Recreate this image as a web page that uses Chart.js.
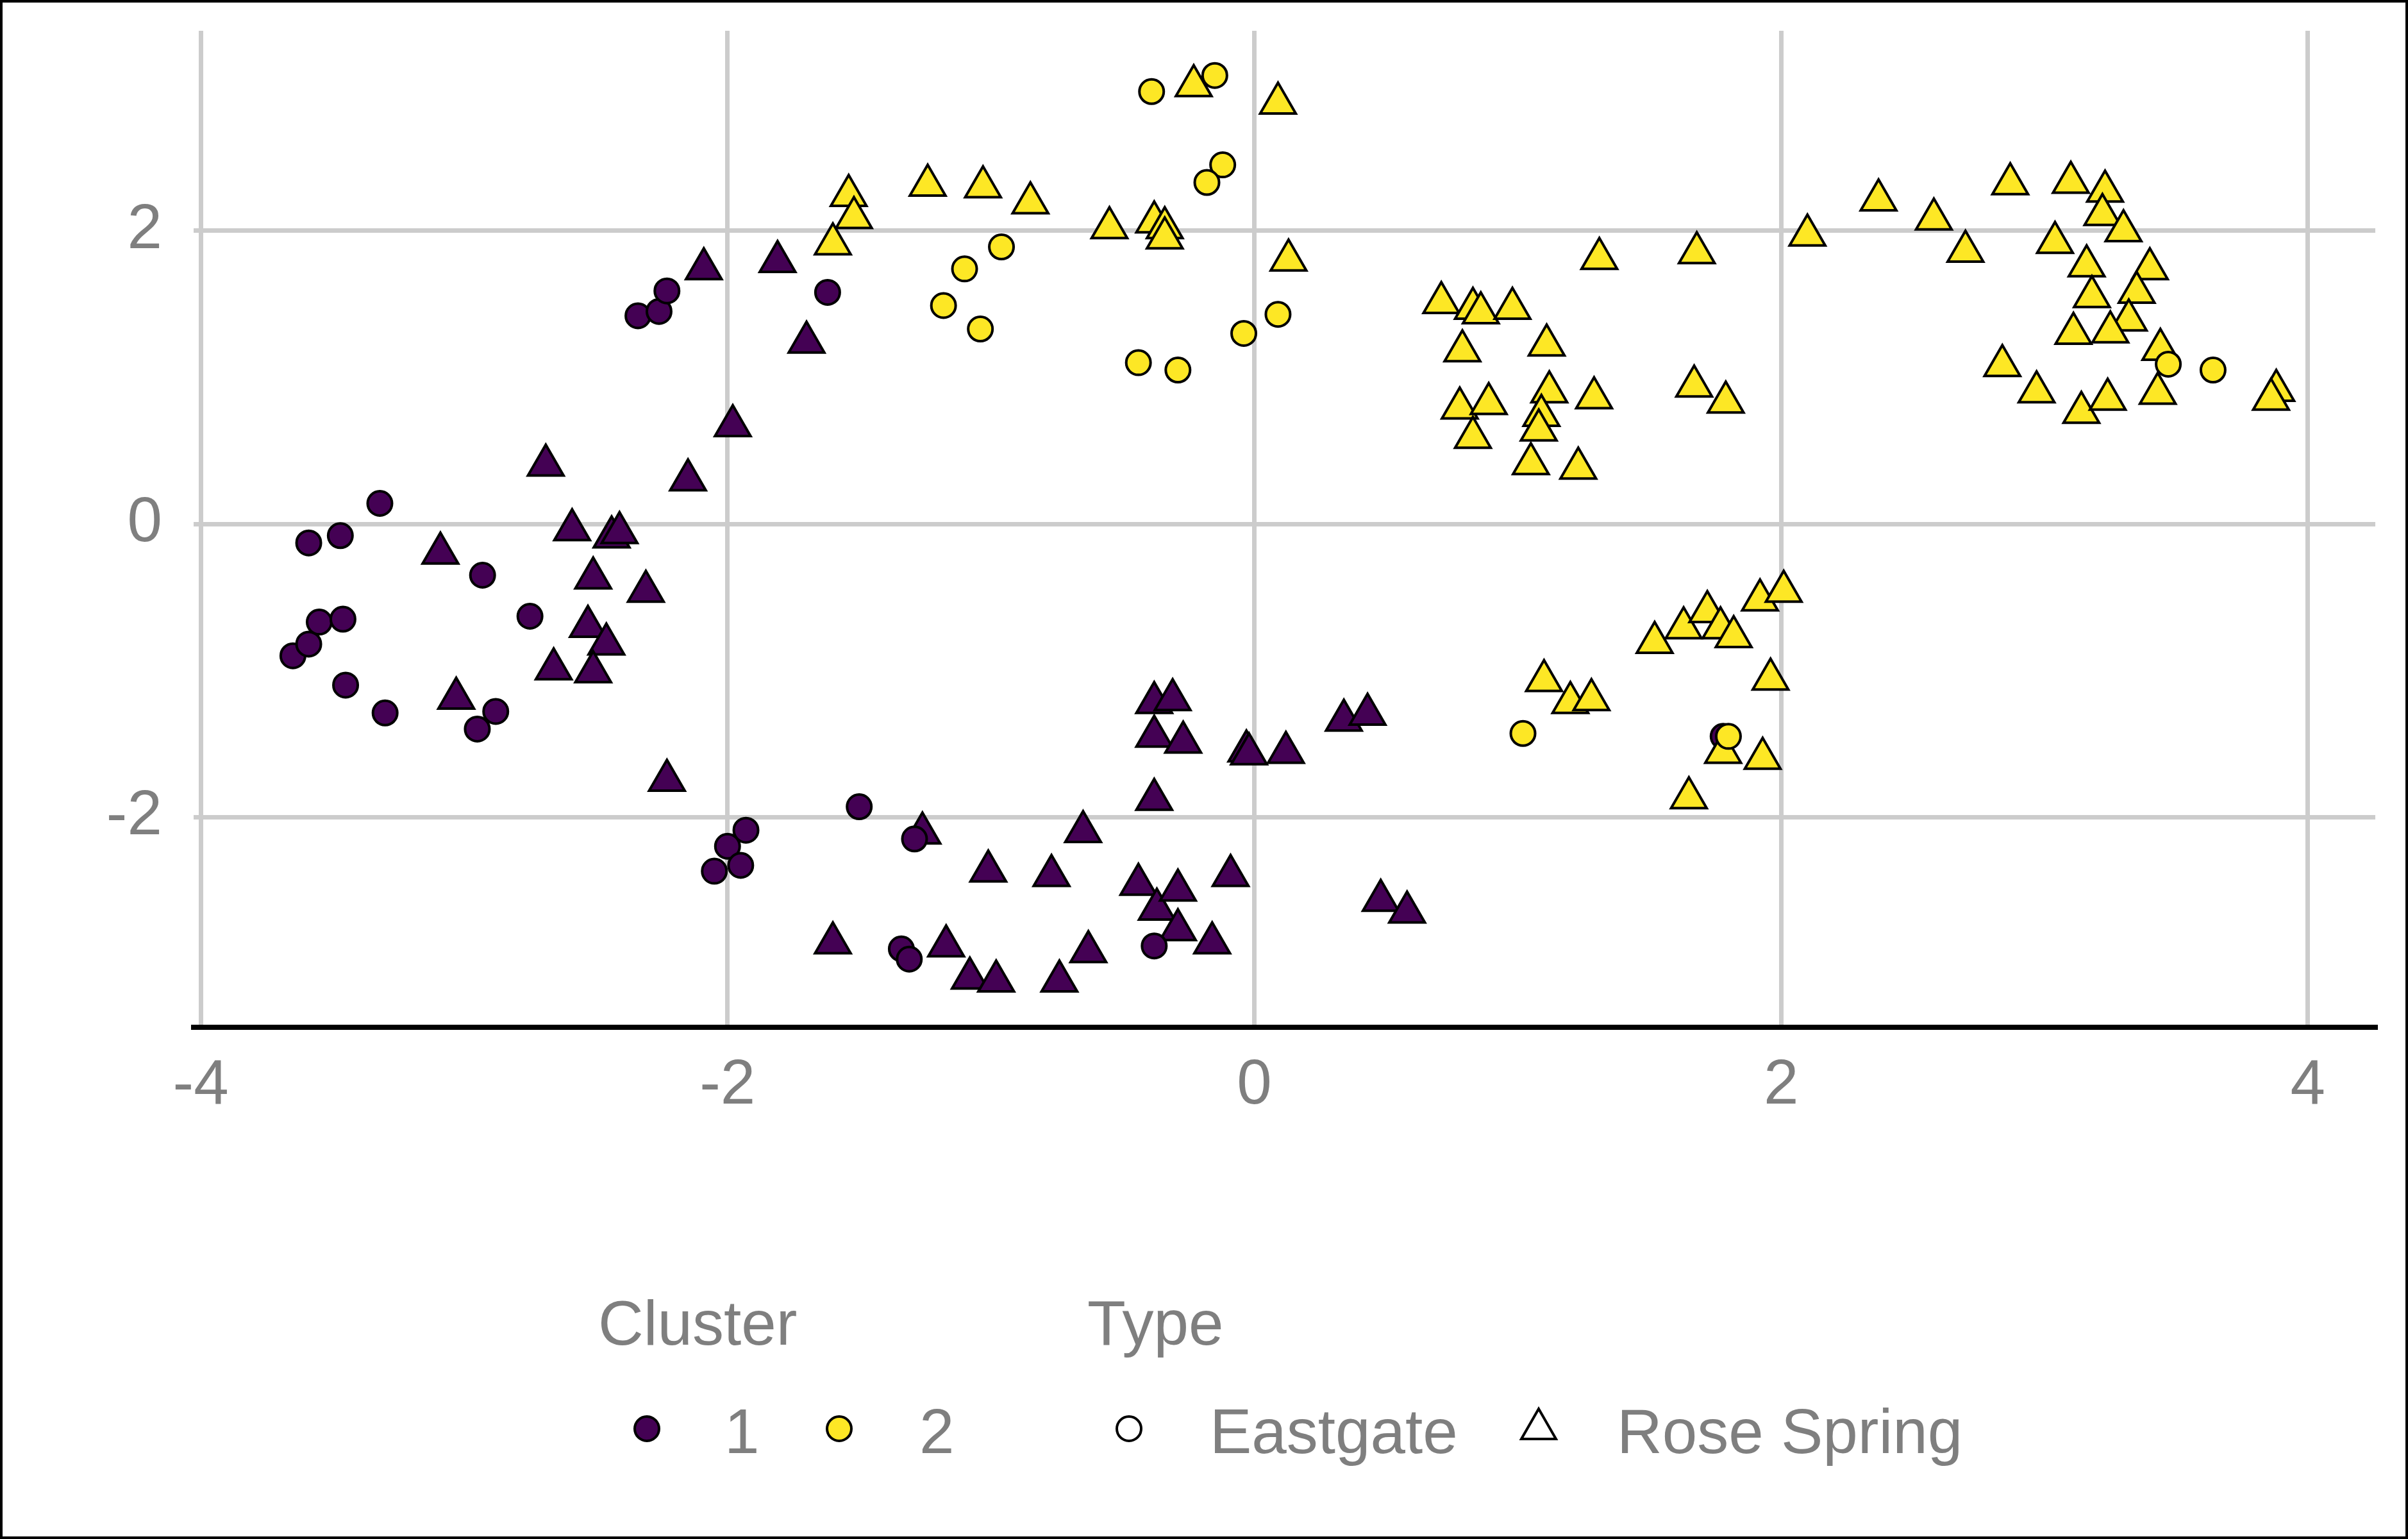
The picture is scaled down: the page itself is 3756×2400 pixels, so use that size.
<!DOCTYPE html>
<html>
<head>
<meta charset="utf-8">
<script src="https://cdn.jsdelivr.net/npm/chart.js@4.4.1/dist/chart.umd.min.js"></script>
<style>
  html, body { margin: 0; padding: 0; background: #fff; }
  #page { position: relative; width: 3756px; height: 2400px; overflow: hidden;
          font-family: 'Liberation Sans', Arial, sans-serif; color: #7f7f7f; }
  #frame { position: absolute; left: 0; top: 0; width: 3756px; height: 2400px;
           box-sizing: border-box; border: 4px solid #000; pointer-events: none; }
  #chart { position: absolute; left: 0; top: 0; }
  .lg { position: absolute; font-size: 98px; line-height: 1; white-space: nowrap; }
  .mk { position: absolute; overflow: visible; }
</style>
</head>
<body>
<div id="page">
  <canvas id="chart" width="3756" height="1800"></canvas>
  <div id="legend"></div>
  <div id="frame"></div>
</div>
<script>
// axis ticks + legend text
const xTicks = [-4, -2, 0, 2, 4];
const yTicks = [-2, 0, 2];
const clusterLabels = ['1', '2'];
const typeLabels = ['Eastgate', 'Rose Spring'];
const clusterColors = ['#440154', '#FDE725'];

// cluster 1, Eastgate
const c1Eastgate = [
  [-3.65, -0.90], [-3.59, -0.82], [-3.55, -0.67], [-3.46, -0.65], [-3.59, -0.13],
  [-3.47, -0.08], [-3.32, 0.14], [-3.45, -1.10], [-3.30, -1.29], [-2.93, -0.35],
  [-2.88, -1.28], [-2.95, -1.40], [-2.75, -0.63], [-2.34, 1.42], [-2.26, 1.45],
  [-2.23, 1.59], [-1.62, 1.58], [-1.50, -1.93], [-1.93, -2.09], [-2.00, -2.20],
  [-1.95, -2.33], [-2.05, -2.37], [-1.34, -2.90], [-1.31, -2.97], [-1.29, -2.15],
  [-0.38, -2.88], [1.78, -1.45]
];

// cluster 1, Rose Spring
const c1RoseSpring = [
  [-2.09, 1.74], [-1.81, 1.79], [-1.70, 1.24], [-1.98, 0.67], [-2.15, 0.30],
  [-2.69, 0.40], [-2.59, -0.04], [-2.44, -0.09], [-2.41, -0.06], [-3.09, -0.20],
  [-2.51, -0.37], [-2.31, -0.46], [-2.53, -0.70], [-2.46, -0.82], [-2.66, -0.99],
  [-2.51, -1.01], [-3.03, -1.19], [-2.23, -1.75], [-1.60, -2.86], [-1.26, -2.11],
  [-1.17, -2.88], [-1.08, -3.10], [-0.98, -3.12], [-1.01, -2.37], [-0.74, -3.12],
  [-0.63, -2.92], [-0.77, -2.40], [-0.65, -2.10], [-0.44, -2.46], [-0.37, -2.63],
  [-0.29, -2.50], [-0.29, -2.77], [-0.16, -2.86], [-0.09, -2.40], [-0.38, -1.88],
  [-0.38, -1.45], [-0.38, -1.22], [-0.31, -1.20], [-0.27, -1.49], [-0.03, -1.55],
  [-0.02, -1.57], [0.12, -1.56], [0.34, -1.34], [0.43, -1.30], [0.48, -2.57],
  [0.58, -2.65]
];

// cluster 2, Eastgate
const c2Eastgate = [
  [-0.39, 2.95], [-0.15, 3.06], [-0.12, 2.45], [-0.18, 2.33], [-0.96, 1.89],
  [-1.10, 1.74], [-1.18, 1.49], [-1.04, 1.33], [-0.44, 1.10], [-0.29, 1.05],
  [-0.04, 1.30], [0.09, 1.43], [1.02, -1.43], [1.80, -1.45], [3.47, 1.09],
  [3.64, 1.05]
];

// cluster 2, Rose Spring
const c2RoseSpring = [
  [-1.54, 2.24], [-1.52, 2.09], [-1.60, 1.91], [-1.24, 2.31], [-1.03, 2.30],
  [-0.85, 2.19], [-0.55, 2.02], [-0.38, 2.06], [-0.34, 2.02], [-0.34, 1.95],
  [-0.23, 2.99], [0.09, 2.87], [0.13, 1.80], [0.71, 1.51], [0.83, 1.47],
  [0.86, 1.44], [0.98, 1.47], [0.79, 1.18], [1.11, 1.22], [1.31, 1.81],
  [1.68, 1.85], [2.10, 1.97], [0.78, 0.79], [0.89, 0.82], [0.83, 0.59],
  [1.12, 0.90], [1.09, 0.74], [1.08, 0.64], [1.05, 0.41], [1.23, 0.38],
  [1.29, 0.86], [1.67, 0.94], [1.79, 0.83], [2.37, 2.21], [2.58, 2.08],
  [2.70, 1.86], [2.87, 2.32], [3.10, 2.33], [3.23, 2.27], [3.22, 2.11],
  [3.30, 2.00], [3.04, 1.92], [3.16, 1.76], [3.40, 1.74], [3.18, 1.55],
  [3.35, 1.58], [3.32, 1.39], [3.25, 1.31], [3.11, 1.30], [3.44, 1.19],
  [2.84, 1.08], [2.97, 0.90], [3.14, 0.76], [3.24, 0.85], [3.43, 0.89],
  [3.88, 0.91], [3.86, 0.85], [1.52, -0.81], [1.63, -0.71], [1.72, -0.60],
  [1.77, -0.71], [1.82, -0.77], [1.92, -0.52], [2.01, -0.46], [1.10, -1.07],
  [1.20, -1.22], [1.28, -1.20], [1.96, -1.06], [1.78, -1.56], [1.93, -1.60],
  [1.65, -1.87]
];

const fontFamily = "'Liberation Sans', Arial, sans-serif";
const textGrey = '#7f7f7f';

const makeSet = (label, pts, color, shape, order) => ({
  label: label,
  data: pts.map(p => ({ x: p[0], y: p[1] })),
  backgroundColor: color,
  borderColor: '#000000',
  borderWidth: 4,
  pointStyle: shape,
  pointRadius: shape === 'triangle' ? 32 : 19,
  pointHoverRadius: shape === 'triangle' ? 32 : 19,
  order: order
});

new Chart(document.getElementById('chart'), {
  type: 'scatter',
  data: {
    datasets: [
      makeSet('1 Eastgate', c1Eastgate, clusterColors[0], 'circle', 2),
      makeSet('1 Rose Spring', c1RoseSpring, clusterColors[0], 'triangle', 2),
      makeSet('2 Eastgate', c2Eastgate, clusterColors[1], 'circle', 1),
      makeSet('2 Rose Spring', c2RoseSpring, clusterColors[1], 'triangle', 1)
    ]
  },
  options: {
    responsive: false,
    animation: false,
    devicePixelRatio: 1,
    layout: { padding: { left: 0, right: 51, top: 48, bottom: 0 } },
    plugins: { legend: { display: false }, tooltip: { enabled: false } },
    scales: {
      x: {
        type: 'linear',
        min: -4.027,
        max: 4.256,
        afterBuildTicks: s => { s.ticks = xTicks.map(v => ({ value: v })); },
        afterFit: s => { s.height = 198; s.paddingLeft = 0; s.paddingRight = 0; },
        grid: { color: '#cccccc', lineWidth: 7, drawTicks: false },
        border: { display: true, color: '#000000', width: 8 },
        ticks: { color: textGrey, font: { family: fontFamily, size: 98 }, padding: 33,
                 maxRotation: 0, autoSkip: false }
      },
      y: {
        type: 'linear',
        min: -3.435,
        max: 3.365,
        afterBuildTicks: s => { s.ticks = yTicks.map(v => ({ value: v })); },
        afterFit: s => { s.width = 302; s.paddingTop = 0; s.paddingBottom = 0; },
        grid: { color: '#cccccc', lineWidth: 7, drawTicks: false },
        border: { display: false },
        ticks: { color: textGrey, font: { family: fontFamily, size: 98 }, padding: 49 }
      }
    }
  }
});

// legend (two groups under the plot)
const legend = document.getElementById('legend');

function addText(txt, left, top) {
  const d = document.createElement('div');
  d.className = 'lg';
  d.style.left = left + 'px';
  d.style.top = top + 'px';
  d.textContent = txt;
  legend.appendChild(d);
}

function addMarker(shape, fill, cx, cy) {
  const ns = 'http://www.w3.org/2000/svg';
  const svg = document.createElementNS(ns, 'svg');
  svg.setAttribute('class', 'mk');
  svg.setAttribute('width', 70);
  svg.setAttribute('height', 70);
  svg.style.left = (cx - 35) + 'px';
  svg.style.top = (cy - 35) + 'px';
  let el;
  if (shape === 'circle') {
    el = document.createElementNS(ns, 'circle');
    el.setAttribute('cx', 35); el.setAttribute('cy', 35); el.setAttribute('r', 19);
  } else {
    el = document.createElementNS(ns, 'polygon');
    el.setAttribute('points', '35,4 62,51 8,51');
  }
  el.setAttribute('fill', fill);
  el.setAttribute('stroke', '#000');
  el.setAttribute('stroke-width', 4);
  svg.appendChild(el);
  legend.appendChild(svg);
}

addText('Cluster', 933, 2014);
addText('Type', 1696, 2014);

const clusterMarkX = [1009, 1309], clusterTextX = [1130, 1434];
clusterLabels.forEach((lab, i) => {
  addMarker('circle', clusterColors[i], clusterMarkX[i], 2228);
  addText(lab, clusterTextX[i], 2183);
});

const typeMarkX = [1761, 2400], typeTextX = [1887, 2522], typeShapes = ['circle', 'triangle'];
typeLabels.forEach((lab, i) => {
  addMarker(typeShapes[i], '#ffffff', typeMarkX[i], 2228);
  addText(lab, typeTextX[i], 2183);
});
</script>
</body>
</html>
